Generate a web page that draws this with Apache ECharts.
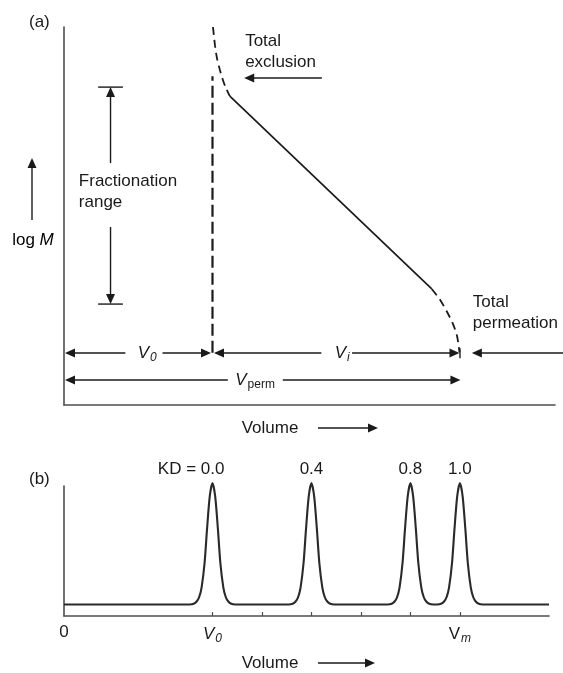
<!DOCTYPE html>
<html><head><meta charset="utf-8">
<script src="https://cdn.jsdelivr.net/npm/echarts@6/dist/echarts.min.js"></script>
<style>html,body{margin:0;padding:0;background:#fff}#c{width:563px;height:673px}</style>
</head><body><div id="c"></div>
<script>
// ---------- Panel (a): log M vs elution volume (volume units: V0 = 3, Vm = 8) ----------
const exclusionCurve = [[3.01,10.0],[3.05,9.52],[3.09,9.18],[3.15,8.86],[3.21,8.60],[3.27,8.39],[3.35,8.17]];
const linearRange = [[3.35,8.17],[7.43,3.07]];
const permeationCurve = [[7.43,3.07],[7.60,2.78],[7.74,2.46],[7.86,2.14],[7.94,1.83],[7.99,1.40]];
const voidLine = [[3,1.38],[3,8.70]];
// arrows: [x1, y1, x2, y2, headAtStart, headAtEnd]
const arrowsA = [
  [0.02,1.376,1.24,1.376,1,0],
  [1.99,1.376,2.97,1.376,0,1],
  [3.03,1.376,5.20,1.376,1,0],
  [5.82,1.376,7.99,1.376,0,1],
  [0.02,0.661,3.31,0.661,1,0],
  [4.42,0.661,8.01,0.661,0,1],
  [10.1,1.376,8.24,1.376,0,1],
  [5.21,8.65,3.64,8.65,0,1],
  [0.94,6.40,0.94,8.41,0,1],
  [0.94,4.71,0.94,2.67,0,1],
  [0.69,8.41,1.19,8.41,0,0],
  [0.69,2.67,1.19,2.67,0,0],
  [8.0,1.24,8.0,1.50,0,0]
];
const labelsA = [
  {pos:[1.68,1.376], text:'{iv|V}{is|0}', align:'center'},
  {pos:[5.62,1.376], text:'{iv|V}{is|i}', align:'center'},
  {pos:[3.86,0.661], text:'{iv|V}{ns|perm}', align:'center'},
  {pos:[3.66,9.35], text:'Total\nexclusion', align:'left'},
  {pos:[0.30,5.63], text:'Fractionation\nrange', align:'left'},
  {pos:[8.26,2.43], text:'Total\npermeation', align:'left'}
];

// ---------- Panel (b): chromatogram ----------
const peakCenters = [3, 5, 7, 8];
const peakLabels = ['KD = 0.0', '0.4', '0.8', '1.0'];
const peakOffsets = [-0.46,-0.38,-0.32,-0.27,-0.22,-0.16,-0.11,-0.055,0,0.055,0.11,0.16,0.22,0.27,0.32,0.38,0.46];
const peakProfile = [0,0.006,0.025,0.06,0.14,0.34,0.62,0.89,1,0.89,0.62,0.34,0.14,0.06,0.025,0.006,0];
const baselineLevel = 0.088;
const apexLevel = 1.023;
const tickValuesB = [3,4,5,6,7,8];
const axisLabelValuesB = [0,3,8];

const FONT = '"Liberation Sans", Arial, sans-serif';
const INK = '#1a1a1a';
const AX = '#4d4d4d';

const chromatogram = [[0, baselineLevel]];
peakCenters.forEach(c => {
  peakOffsets.forEach((o, i) => {
    chromatogram.push([c + o, baselineLevel + (apexLevel - baselineLevel) * peakProfile[i]]);
  });
});
chromatogram.push([9.8, baselineLevel]);

const rich = {
  iv: {fontStyle:'italic', fontSize:17, fontFamily:FONT, color:INK},
  v: {fontSize:17, fontFamily:FONT, color:INK},
  is: {fontStyle:'italic', fontSize:12, fontFamily:FONT, color:INK, padding:[9,0,0,1]},
  ns: {fontSize:12, fontFamily:FONT, color:INK, padding:[9,0,0,1]},
  n: {fontSize:17, fontFamily:FONT, color:INK}
};

function renderArrow(params, api) {
  const p1 = api.coord([api.value(0), api.value(1)]);
  const p2 = api.coord([api.value(2), api.value(3)]);
  const hs = api.value(4), he = api.value(5);
  const dx = p2[0]-p1[0], dy = p2[1]-p1[1], len = Math.hypot(dx, dy);
  const ux = dx/len, uy = dy/len, nx = -uy, ny = ux;
  const L = 10, W = 4.5;
  let a = p1, b = p2;
  const children = [];
  function head(tip, dir) {
    const bx = tip[0]-dir[0]*L, by = tip[1]-dir[1]*L;
    children.push({type:'polygon', shape:{points:[tip,[bx+nx*W,by+ny*W],[bx-nx*W,by-ny*W]]}, style:{fill:INK}});
    return [bx+dir[0]*1, by+dir[1]*1];
  }
  if (he) b = head(p2, [ux, uy]);
  if (hs) a = head(p1, [-ux, -uy]);
  children.unshift({type:'line', shape:{x1:a[0],y1:a[1],x2:b[0],y2:b[1]}, style:{stroke:INK, lineWidth:1.4}});
  return {type:'group', children};
}

const chart = echarts.init(document.getElementById('c'), null, {renderer:'canvas'});

function arrowGraphic(x1,y1,x2,y2) {
  const dx=x2-x1, dy=y2-y1, len=Math.hypot(dx,dy), ux=dx/len, uy=dy/len, nx=-uy, ny=ux;
  const L=10, W=4.5, bx=x2-ux*L, by=y2-uy*L;
  return [
    {type:'line', shape:{x1,y1,x2:bx+ux,y2:by+uy}, style:{stroke:INK, lineWidth:1.4}},
    {type:'polygon', shape:{points:[[x2,y2],[bx+nx*W,by+ny*W],[bx-nx*W,by-ny*W]]}, style:{fill:INK}}
  ];
}

const graphics = [
  {type:'text', left:29, top:14, style:{text:'(a)', font:'17px '+FONT, fill:INK}},
  {type:'text', left:29, top:471, style:{text:'(b)', font:'17px '+FONT, fill:INK}},
  {type:'text', x:33, y:240, style:{text:'{n|log }{iv|M}', rich, align:'center', verticalAlign:'middle'}},
  {type:'text', x:270, y:428, style:{text:'Volume', font:'17px '+FONT, fill:INK, align:'center', verticalAlign:'middle'}},
  {type:'text', x:270, y:663, style:{text:'Volume', font:'17px '+FONT, fill:INK, align:'center', verticalAlign:'middle'}}
].concat(arrowGraphic(32,220,32,158), arrowGraphic(318,428,378,428), arrowGraphic(318,663,375,663));

const labelBase = {show:true, position:[0,0], verticalAlign:'middle', fontSize:17, fontFamily:FONT,
  color:INK, textBorderWidth:0, textShadowBlur:0, opacity:1};

chart.setOption({
  animation: false,
  backgroundColor: '#fff',
  grid: [
    {left:64, top:27, width:491, height:378},
    {left:64, top:486, width:485, height:130}
  ],
  xAxis: [
    {gridIndex:0, type:'value', min:0, max:9.92, axisLine:{lineStyle:{color:AX,width:1.6}}, axisTick:{show:false}, axisLabel:{show:false}, splitLine:{show:false}},
    {gridIndex:1, type:'value', min:0, max:9.8, axisLine:{lineStyle:{color:AX,width:1.6}},
      axisTick:{show:true, inside:true, length:4, customValues:tickValuesB, lineStyle:{color:AX,width:1.2}},
      axisLabel:{show:true, customValues:axisLabelValuesB, margin:8,
        formatter: v => v === 0 ? '{n|0}' : (v === 3 ? '{iv|V}{is|0}' : '{v|V}{is|m}'), rich},
      splitLine:{show:false}}
  ],
  yAxis: [
    {gridIndex:0, type:'value', min:0, max:10, axisLine:{lineStyle:{color:AX,width:1.6}}, axisTick:{show:false}, axisLabel:{show:false}, splitLine:{show:false}},
    {gridIndex:1, type:'value', min:0, max:1, axisLine:{lineStyle:{color:AX,width:1.6}}, axisTick:{show:false}, axisLabel:{show:false}, splitLine:{show:false}}
  ],
  graphic: graphics,
  series: [
    {type:'line', xAxisIndex:0, yAxisIndex:0, data:exclusionCurve, showSymbol:false, smooth:0.3, clip:false,
      lineStyle:{color:INK, width:1.8, type:[8,5]}},
    {type:'line', xAxisIndex:0, yAxisIndex:0, data:linearRange, showSymbol:false, clip:false,
      lineStyle:{color:INK, width:1.7}},
    {type:'line', xAxisIndex:0, yAxisIndex:0, data:permeationCurve, showSymbol:false, smooth:0.3, clip:false,
      lineStyle:{color:INK, width:1.8, type:[8,5]}},
    {type:'line', xAxisIndex:0, yAxisIndex:0, data:voidLine, showSymbol:false, clip:false,
      lineStyle:{color:INK, width:2.2, type:[12,5]}},
    {type:'custom', xAxisIndex:0, yAxisIndex:0, data:arrowsA, renderItem:renderArrow, clip:false, silent:true},
    {type:'scatter', xAxisIndex:0, yAxisIndex:0, symbolSize:0, clip:false, silent:true,
      data: labelsA.map(l => ({value:l.pos, label:Object.assign({}, labelBase, {formatter:l.text, align:l.align, lineHeight:21, rich})}))},
    {type:'line', xAxisIndex:1, yAxisIndex:1, data:chromatogram, showSymbol:false, smooth:0.25, clip:false,
      lineStyle:{color:'#2a2a2a', width:2.1}},
    {type:'scatter', xAxisIndex:1, yAxisIndex:1, symbolSize:0, clip:false, silent:true,
      data: peakCenters.map((c, i) => ({value:[c, 1.131], label:Object.assign({}, labelBase, {formatter:peakLabels[i],
        align: i === 0 ? 'right' : 'center', offset: i === 0 ? [12,0] : [0,0]})}))}
  ]
});
</script></body></html>
